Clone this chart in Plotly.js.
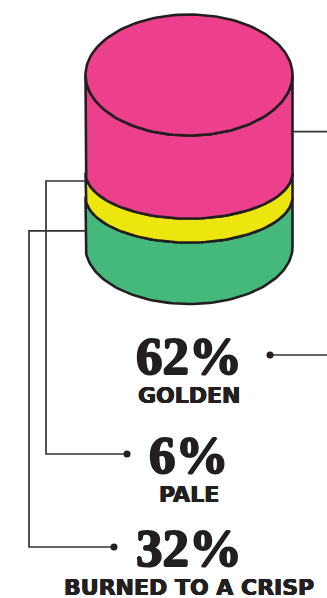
<!DOCTYPE html>
<html>
<head>
<meta charset="utf-8">
<script src="https://cdn.plot.ly/plotly-3.0.1.min.js"></script>
<style>html,body{margin:0;padding:0;background:#fff;}#chart{width:327px;height:598px;}</style>
</head>
<body>
<div id="chart"></div>
<script>
// ---- data ----
const categories = ['Golden', 'Pale', 'Burned to a crisp'];
const values = [62, 6, 32];
const valueLabels = ['62%', '6%', '32%'];
const nameLabels = ['GOLDEN', 'PALE', 'BURNED TO A CRISP'];

// ---- style ----
const colors = ['#EC408C', '#ECE60E', '#45B97C'];
const ink = '#231F20';
const W = 327, H = 598;
const cx = 189, rx = 103.5;
const topY = 75, bottomY = 247;
const ryTop = 60.5, ryMid = 46, ryBottom = 57;
const minBand = 24;
const leaderFrac = [0.58, 0.35, 0.68];
const leaderSide = ['right', 'left', 'left'];
const leaderElbowX = [337, 46, 29];
const labelCenterY = [355, 454, 547];
const dotX = [270, 127, 114];
const labelX = 189;
const nameOffset = 40;
const heavy = (w) => `${w}px 0 0 ${ink}, -${w}px 0 0 ${ink}, 0 ${w * 0.6}px 0 ${ink}, 0 -${w * 0.6}px 0 ${ink}`;

function bandHeights(vals, total, minH) {
  const sum = vals.reduce((a, b) => a + b, 0);
  const prop = vals.map(v => v / sum * total);
  const small = prop.map(h => h < minH);
  const fixed = small.reduce((a, s) => a + (s ? minH : 0), 0);
  const restSum = vals.reduce((a, v, i) => a + (small[i] ? 0 : v), 0);
  return vals.map((v, i) => small[i] ? minH : v / restSum * (total - fixed));
}

const heights = bandHeights(values, bottomY - topY, minBand);
const bounds = [topY];
heights.forEach(h => bounds.push(bounds[bounds.length - 1] + h));

function arc(yc, ry, from, to, n) {
  const xs = [], ys = [];
  for (let k = 0; k <= n; k++) {
    const t = from + (to - from) * k / n;
    xs.push(cx + rx * Math.cos(t));
    ys.push(yc + ry * Math.sin(t));
  }
  return [xs, ys];
}

const traces = [];
// draw from bottom to top
for (let i = values.length - 1; i >= 0; i--) {
  const y0 = bounds[i], y1 = bounds[i + 1];
  const ryT = i === 0 ? ryTop : ryMid;
  const ryB = i === values.length - 1 ? ryBottom : ryMid;
  const bot = arc(y1, ryB, Math.PI, 0, 80);
  const top = arc(y0, ryT, 0, Math.PI, 80);
  const xs = [cx - rx].concat(bot[0], [cx + rx], top[0]);
  const ys = [y0].concat(bot[1], [y0], top[1]);
  traces.push({
    x: xs, y: ys, type: 'scatter', mode: 'lines', fill: 'toself',
    fillcolor: colors[i], line: {color: ink, width: 2.6},
    name: categories[i], hoverinfo: 'skip', showlegend: false
  });
}
// top ellipse
const full = arc(topY, ryTop, 0, 2 * Math.PI, 160);
traces.push({
  x: full[0], y: full[1], type: 'scatter', mode: 'lines', fill: 'toself',
  fillcolor: colors[0], line: {color: ink, width: 2.6},
  hoverinfo: 'skip', showlegend: false
});

// leader lines
values.forEach((v, i) => {
  const y0 = bounds[i], y1 = bounds[i + 1];
  const ay = y0 + leaderFrac[i] * (y1 - y0);
  const ax = leaderSide[i] === 'right' ? cx + rx : cx - rx;
  traces.push({
    x: [ax, leaderElbowX[i], leaderElbowX[i], dotX[i]],
    y: [ay, ay, labelCenterY[i], labelCenterY[i]],
    type: 'scatter', mode: 'lines', line: {color: '#333', width: 1.7},
    hoverinfo: 'skip', showlegend: false
  });
  traces.push({
    x: [dotX[i]], y: [labelCenterY[i]], type: 'scatter', mode: 'markers',
    marker: {color: ink, size: 7}, hoverinfo: 'skip', showlegend: false
  });
});

const annotations = [];
values.forEach((v, i) => {
  annotations.push({
    x: labelX, y: labelCenterY[i] + 1, xref: 'x', yref: 'y',
    text: valueLabels[i], showarrow: false, xanchor: 'center', yanchor: 'middle',
    font: {family: 'Liberation Serif', size: 53, color: ink, weight: 'bold', shadow: heavy(1)}
  });
  annotations.push({
    x: labelX, y: labelCenterY[i] + nameOffset, xref: 'x', yref: 'y',
    text: nameLabels[i], showarrow: false, xanchor: 'center', yanchor: 'middle',
    font: {family: 'DejaVu Sans', size: 22, color: ink, weight: 'bold', shadow: heavy(0.5)}
  });
});

const layout = {
  width: W, height: H,
  margin: {l: 0, r: 0, t: 0, b: 0, pad: 0},
  paper_bgcolor: '#fff', plot_bgcolor: '#fff',
  xaxis: {range: [0, W], visible: false, fixedrange: true},
  yaxis: {range: [H, 0], visible: false, fixedrange: true},
  showlegend: false,
  annotations: annotations
};

Plotly.newPlot('chart', traces, layout, {displayModeBar: false, staticPlot: true});
</script>
</body>
</html>
